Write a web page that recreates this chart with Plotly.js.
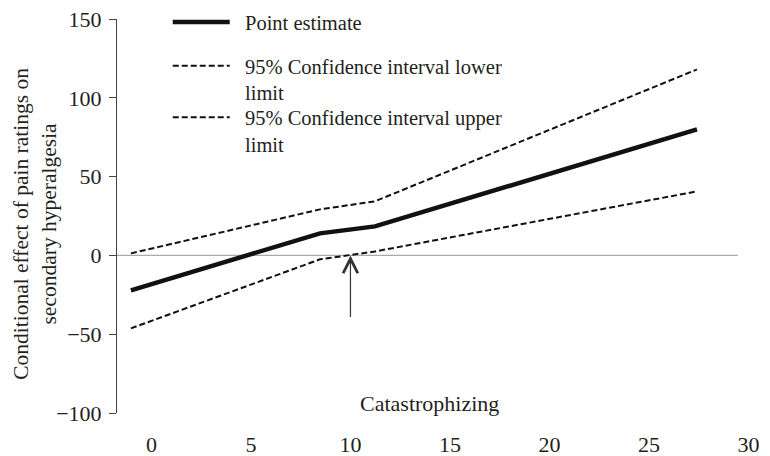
<!DOCTYPE html>
<html>
<head>
<meta charset="utf-8">
<script src="https://cdn.plot.ly/plotly-3.0.1.min.js"></script>
<style>html,body{margin:0;padding:0;background:#fff;}#chart{width:770px;height:456px;}</style>
</head>
<body>
<div id="chart"></div>
<script>
// Catastrophizing values where the plotted lines change slope
const catastrophizing = [-1.03, 8.47, 11.23, 27.41];
const pointEstimate = [-22.2, 14.0, 18.4, 80.0];
const ciLower = [-46.3, -2.5, 2.5, 40.6];
const ciUpper = [1.3, 29.2, 34.3, 118.0];
const xTicks = [0, 5, 10, 15, 20, 25, 30];
const yTicks = [-100, -50, 0, 50, 100, 150];
const seriesNames = ['Point estimate', '95% Confidence interval lower', '95% Confidence interval upper'];
const nameSuffix = ['', 'limit', 'limit'];
const xTitle = 'Catastrophizing';
const yTitle = 'Conditional effect of pain ratings on<br>secondary hyperalgesia';
const markerX = 10; // Johnson-Neyman arrow
const markerFrom = -40;
const markerTo = 0;

const FONT = 'Liberation Serif, Times New Roman, serif';
const TXT = '#231f20';
const PAD = '\u00a0\u00a0';
function legendName(i) {
  return PAD + seriesNames[i] + (nameSuffix[i] ? '<br>' + PAD + nameSuffix[i] : '');
}

const traces = [
  {x: catastrophizing, y: pointEstimate, mode: 'lines', name: legendName(0),
   line: {color: '#111', width: 4.5}, legend: 'legend'},
  {x: catastrophizing, y: ciLower, mode: 'lines', name: legendName(1),
   line: {color: '#111', width: 2, dash: '6px,3px'}, legend: 'legend2'},
  {x: catastrophizing, y: ciUpper, mode: 'lines', name: legendName(2),
   line: {color: '#111', width: 2, dash: '6px,3px'}, legend: 'legend3'}
];

const legendBase = {xanchor: 'left', yanchor: 'top', bgcolor: 'rgba(0,0,0,0)',
  font: {family: FONT, size: 20.5, color: TXT}, valign: 'top', itemwidth: 57, itemclick: false};

const layout = {
  width: 770, height: 456,
  margin: {l: 117, r: 0, t: 19, b: 43},
  paper_bgcolor: '#fff', plot_bgcolor: '#fff',
  font: {family: FONT, size: 22, color: TXT},
  xaxis: {range: [-1.73, 31.08], tickvals: xTicks, ticktext: xTicks.map(String),
    showline: false, showgrid: false, zeroline: false, ticks: '',
    ticklabelstandoff: 16, tickfont: {family: FONT, size: 22, color: TXT}},
  yaxis: {range: [-100, 150], tickvals: yTicks, showline: true, linecolor: '#444', linewidth: 1,
    ticks: 'outside', ticklen: 7, tickcolor: '#444', showgrid: false, zeroline: false,
    ticklabelstandoff: 3, tickfont: {family: FONT, size: 22, color: TXT}},
  showlegend: true,
  legend: Object.assign({}, legendBase, {x: 0.0777, y: 1.043}),
  legend2: Object.assign({}, legendBase, {x: 0.0777, y: 0.9315}),
  legend3: Object.assign({}, legendBase, {x: 0.0777, y: 0.801}),
  shapes: [
    {type: 'line', xref: 'x', yref: 'y', x0: -1.73, x1: 29.47, y0: 0, y1: 0,
     line: {color: '#aaa', width: 1.2}, layer: 'below'}
  ],
  annotations: [
    {xref: 'x', yref: 'y', x: markerX, y: markerTo, axref: 'x', ayref: 'y', ax: markerX, ay: markerFrom,
     showarrow: true, arrowhead: 5, arrowsize: 2.4, arrowwidth: 1.2, arrowcolor: '#333', text: ''},
    {xref: 'paper', yref: 'paper', x: 0.479, y: 0.025, xanchor: 'center', yanchor: 'middle',
     text: xTitle, showarrow: false, font: {family: FONT, size: 22, color: TXT}},
    {xref: 'paper', yref: 'paper', x: -0.1256, y: 0.48, xanchor: 'center', yanchor: 'middle',
     textangle: -90, text: yTitle, showarrow: false, font: {family: FONT, size: 21.5, color: TXT}}
  ]
};

Plotly.newPlot('chart', traces, layout, {displayModeBar: false, staticPlot: true});
</script>
</body>
</html>
